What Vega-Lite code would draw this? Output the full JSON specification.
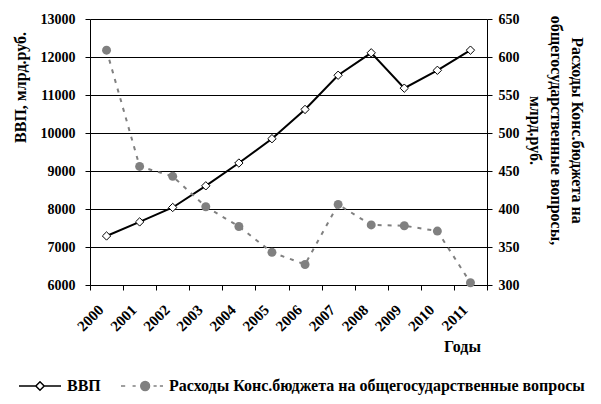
{
  "$schema": "https://vega.github.io/schema/vega-lite/v6.json",
  "width": 397,
  "height": 266,
  "autosize": {"type": "none"},
  "padding": {"left": 90, "top": 19, "right": 114, "bottom": 119},
  "background": "white",
  "config": {
    "view": {"stroke": null},
    "font": "Liberation Serif",
    "axis": {
      "labelFont": "Liberation Serif",
      "labelFontWeight": "bold",
      "labelFontSize": 14,
      "labelColor": "black",
      "titleFont": "Liberation Serif",
      "titleFontWeight": "bold",
      "titleColor": "black",
      "domainColor": "black",
      "tickColor": "black",
      "tickSize": 5
    }
  },
  "data": {
    "values": [
      {"year": "2000", "series": "ВВП", "value": 7290},
      {"year": "2001", "series": "ВВП", "value": 7660},
      {"year": "2002", "series": "ВВП", "value": 8040},
      {"year": "2003", "series": "ВВП", "value": 8610},
      {"year": "2004", "series": "ВВП", "value": 9210},
      {"year": "2005", "series": "ВВП", "value": 9850},
      {"year": "2006", "series": "ВВП", "value": 10620},
      {"year": "2007", "series": "ВВП", "value": 11520},
      {"year": "2008", "series": "ВВП", "value": 12110},
      {"year": "2009", "series": "ВВП", "value": 11180},
      {"year": "2010", "series": "ВВП", "value": 11650},
      {"year": "2011", "series": "ВВП", "value": 12180},
      {"year": "2000", "series": "Расходы Конс.бюджета на общегосударственные вопросы", "value": 609},
      {"year": "2001", "series": "Расходы Конс.бюджета на общегосударственные вопросы", "value": 456},
      {"year": "2002", "series": "Расходы Конс.бюджета на общегосударственные вопросы", "value": 443},
      {"year": "2003", "series": "Расходы Конс.бюджета на общегосударственные вопросы", "value": 403},
      {"year": "2004", "series": "Расходы Конс.бюджета на общегосударственные вопросы", "value": 377},
      {"year": "2005", "series": "Расходы Конс.бюджета на общегосударственные вопросы", "value": 343},
      {"year": "2006", "series": "Расходы Конс.бюджета на общегосударственные вопросы", "value": 327},
      {"year": "2007", "series": "Расходы Конс.бюджета на общегосударственные вопросы", "value": 406},
      {"year": "2008", "series": "Расходы Конс.бюджета на общегосударственные вопросы", "value": 379},
      {"year": "2009", "series": "Расходы Конс.бюджета на общегосударственные вопросы", "value": 378},
      {"year": "2010", "series": "Расходы Конс.бюджета на общегосударственные вопросы", "value": 371},
      {"year": "2011", "series": "Расходы Конс.бюджета на общегосударственные вопросы", "value": 303}
    ]
  },
  "encoding": {
    "x": {
      "field": "year",
      "type": "ordinal",
      "bandPosition": 0.5,
      "scale": {"type": "band", "paddingInner": 0, "paddingOuter": 0},
      "axis": {
        "title": "Годы",
        "titleFont": "Liberation Serif",
        "titleFontSize": 16,
        "titleX": 372,
        "titleY": 61,
        "titleAlign": "center",
        "titleBaseline": "middle",
        "labelFont": "Liberation Serif",
        "labelFontSize": 15,
        "labelAngle": -45,
        "labelAlign": "right",
        "labelBaseline": "middle",
        "labelPadding": 17,
        "labelOffset": -6,
        "tickBand": "extent",
        "grid": false
      }
    }
  },
  "layer": [
    {
      "transform": [{"filter": "datum.series === 'ВВП'"}],
      "encoding": {
        "y": {
          "field": "value",
          "type": "quantitative",
          "scale": {"domain": [6000, 13000], "nice": false, "zero": false},
          "axis": {
            "orient": "left",
            "values": [6000, 7000, 8000, 9000, 10000, 11000, 12000, 13000],
            "format": "d",
            "grid": true,
            "gridColor": "black",
            "gridWidth": 1,
            "gridOpacity": 1,
            "labelFont": "Liberation Serif",
            "labelPadding": 10,
            "title": "ВВП, млрд.руб.",
            "titleFont": "Liberation Serif",
            "titleFontSize": 16,
            "titleAngle": -90,
            "titleX": -70,
            "titleY": 68,
            "titleAlign": "center",
            "titleBaseline": "middle"
          }
        }
      },
      "layer": [
        {
          "mark": {"type": "line", "strokeWidth": 2},
          "encoding": {
            "color": {
              "field": "series",
              "type": "nominal",
              "scale": {
                "domain": ["ВВП", "Расходы Конс.бюджета на общегосударственные вопросы"],
                "range": ["#000000", "#808080"]
              },
              "legend": {
                "orient": "none",
                "legendX": -72,
                "legendY": 345,
                "direction": "horizontal",
                "title": null,
                "padding": 0,
                "symbolSize": 1764,
                "symbolStrokeWidth": 1.5,
                "labelFont": "Liberation Serif",
                "labelFontSize": 16,
                "labelFontWeight": "bold",
                "labelColor": "black",
                "labelOffset": 5,
                "labelLimit": 0,
                "columnPadding": 17,
                "encode": {
                  "symbols": {
                    "update": {
                      "shape": {"signal": "datum.value === 'ВВП' ? 'M-1,0H-0.2M0.2,0H1M-0.2,0L0,-0.2L0.2,0L0,0.2Z' : 'M-1,0H-0.8M-0.45,0H-0.3M0.55,0H0.7M0.85,0H1M0.36,0A0.21,0.21 0 1 1 -0.06,0A0.21,0.21 0 1 1 0.36,0Z'"},
                      "fill": {"signal": "datum.value === 'ВВП' ? 'white' : '#808080'"},
                      "fillOpacity": {"value": 1},
                      "strokeDash": {"value": []},
                      "strokeWidth": {"value": 1.5}
                    }
                  }
                }
              }
            }
          }
        },
        {
          "mark": {"type": "point", "shape": "diamond", "filled": true, "fill": "white", "stroke": "black", "strokeWidth": 1, "size": 70, "opacity": 1}
        }
      ]
    },
    {
      "transform": [{"filter": "datum.series !== 'ВВП'"}],
      "encoding": {
        "y": {
          "field": "value",
          "type": "quantitative",
          "scale": {"domain": [300, 650], "nice": false, "zero": false},
          "axis": {
            "orient": "right",
            "values": [300, 350, 400, 450, 500, 550, 600, 650],
            "grid": false,
            "labelFont": "Liberation Serif",
            "labelPadding": 6,
            "title": ["Расходы Конс.бюджета на", "общегосударственные вопросы,", "млрд.руб."],
            "titleFont": "Liberation Serif",
            "titleFontSize": 16,
            "titleLineHeight": 21,
            "titleAngle": 90,
            "titleX": 89,
            "titleY": 111,
            "titleAlign": "center",
            "titleBaseline": "middle"
          }
        }
      },
      "layer": [
        {
          "mark": {"type": "line", "strokeWidth": 2, "strokeDash": [4, 6]},
          "encoding": {
            "color": {"field": "series", "type": "nominal"}
          }
        },
        {
          "mark": {"type": "circle", "size": 80, "color": "#808080", "opacity": 1}
        }
      ]
    }
  ],
  "resolve": {"scale": {"y": "independent"}}
}
